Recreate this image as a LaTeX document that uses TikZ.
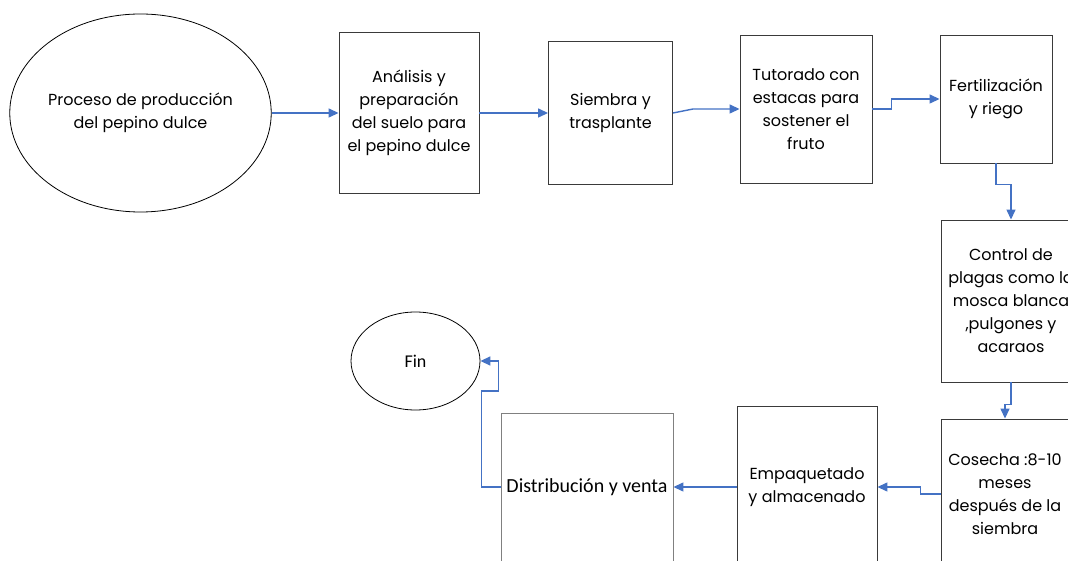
\documentclass[tikz,border=0pt]{standalone}
\usepackage{fontspec}
\setmainfont{Poppins}
\newfontfamily\calfont{Carlito}
\usetikzlibrary{arrows.meta,shapes.geometric}
\definecolor{flowblue}{HTML}{4472C4}
\definecolor{edgegray}{HTML}{3A3A3A}
\tikzset{
  stepbox/.style={draw=edgegray,line width=0.9pt,fill=white,align=center,
    inner sep=0pt,font=\fontsize{16}{23}\selectfont},
  oval/.style={ellipse,draw=black,line width=0.8pt,align=center,inner sep=0pt,
    font=\fontsize{16}{23}\selectfont},
  flow/.style={draw=flowblue,line width=1.4pt,-{Triangle[length=10pt,width=9pt]}},
}
\begin{document}
\begin{tikzpicture}[x=1pt,y=-1pt]
\useasboundingbox (0,0) rectangle (1068,561);
% start and end terminals
\node[oval,minimum width=257pt,minimum height=198pt] (st) at (140.5,113)
  {Proceso de producción\\del pepino dulce};
\node[oval,minimum width=129pt,minimum height=98pt,font=\calfont\fontsize{18}{22}\selectfont] (fin) at (415.5,361) {Fin};
% process steps
\node[stepbox,minimum width=140pt,minimum height=161pt] (a) at (409,113)
  {Análisis y\\preparación\\del suelo para\\el pepino dulce};
\node[stepbox,minimum width=124pt,minimum height=143pt] (b) at (610.5,113)
  {Siembra y\\trasplante};
\node[stepbox,minimum width=132pt,minimum height=148pt] (c) at (806,109)
  {Tutorado con\\estacas para\\sostener el\\fruto};
\node[stepbox,minimum width=112pt,minimum height=128pt] (d) at (996,99)
  {Fertilización\\y riego};
\node[stepbox,minimum width=140pt,minimum height=162pt] (e) at (1011,301)
  {Control de\\plagas como la\\mosca blanca\\,pulgones y\\acaraos};
\node[stepbox,minimum width=128pt,minimum height=150pt] (f) at (1005,494)
  {Cosecha :8-10\\meses\\después de la\\siembra};
\node[stepbox,minimum width=140pt,minimum height=162pt] (g) at (807,487)
  {Empaquetado\\y almacenado};
\node[stepbox,draw=gray,minimum width=172pt,minimum height=148pt,
  font=\calfont\fontsize{20}{24}\selectfont] (h) at (587,487)
  {Distribución y venta};
% connectors
\draw[flow] (st.east) -- (st.east -| a.west);
\draw[flow] (a.east) -- (a.east -| b.west);
\draw[flow] (b.east) -- ([xshift=20pt]b.east |- c.west) -- (c.west);
\draw[flow] (c.east) -- ++(19,0) |- (d.west);
\draw[flow] (d.south) -- ++(0,21) -| (e.north);
\draw[flow] (e.south) -- ++(0,22) -| (f.north);
\draw[flow] (f.west) -- ++(-20,0) |- (g.east);
\draw[flow] (g.west) -- (h.east);
\draw[flow] (h.west) -- ++(-19,0) -- ++(0,-96) -- ++(17,0) |- (fin.east);
\end{tikzpicture}
\end{document}
